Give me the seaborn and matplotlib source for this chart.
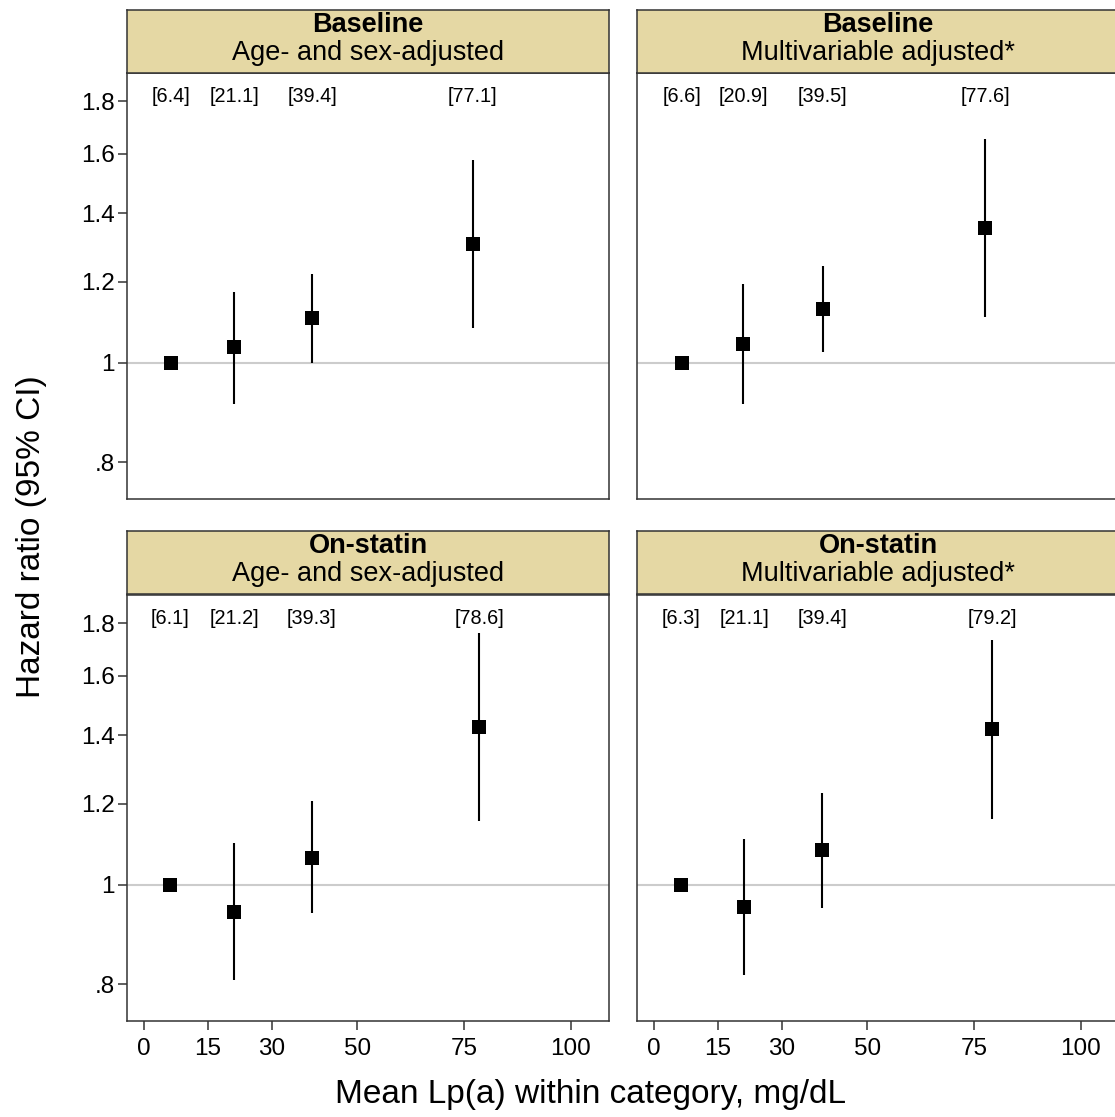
import numpy as np
import pandas as pd
import matplotlib
matplotlib.use("Agg")
import matplotlib.pyplot as plt
import matplotlib.transforms as mtransforms
from matplotlib.ticker import NullLocator
import seaborn as sns

# ---- data -------------------------------------------------------------
periods = ["Baseline", "Baseline", "On-statin", "On-statin"]
models = ["Age- and sex-adjusted", "Multivariable adjusted*",
          "Age- and sex-adjusted", "Multivariable adjusted*"]

# mean Lp(a) within each category (mg/dL), per panel
mean_lpa = [
    [6.4, 21.1, 39.4, 77.1],
    [6.6, 20.9, 39.5, 77.6],
    [6.1, 21.2, 39.3, 78.6],
    [6.3, 21.1, 39.4, 79.2],
]
hazard_ratio = [
    [1.00, 1.036, 1.106, 1.308],
    [1.00, 1.044, 1.129, 1.354],
    [1.00, 0.942, 1.063, 1.425],
    [1.00, 0.951, 1.082, 1.420],
]
ci_lower = [
    [np.nan, 0.912, 1.001, 1.082],
    [np.nan, 0.911, 1.024, 1.108],
    [np.nan, 0.807, 0.938, 1.155],
    [np.nan, 0.816, 0.950, 1.161],
]
ci_upper = [
    [np.nan, 1.174, 1.222, 1.579],
    [np.nan, 1.195, 1.244, 1.654],
    [np.nan, 1.100, 1.207, 1.760],
    [np.nan, 1.109, 1.231, 1.735],
]

x_ticks = [0, 15, 30, 50, 75, 100]
y_ticks = [0.8, 1.0, 1.2, 1.4, 1.6, 1.8]
y_tick_labels = [".8", "1", "1.2", "1.4", "1.6", "1.8"]

rows = []
for p in range(4):
    for k in range(4):
        rows.append({"panel": p, "lpa": mean_lpa[p][k], "hr": hazard_ratio[p][k],
                     "lo": ci_lower[p][k], "hi": ci_upper[p][k]})
df = pd.DataFrame(rows)

# ---- style ------------------------------------------------------------
sns.set_style("ticks")
plt.rcParams["font.family"] = ["Liberation Sans", "DejaVu Sans"]
plt.rcParams["text.color"] = "black"
plt.rcParams["axes.labelcolor"] = "black"
plt.rcParams["xtick.color"] = "black"
plt.rcParams["ytick.color"] = "black"
frame_col = "#333333"
strip_col = "#E5D8A4"

W, H = 1115, 1117
fig = plt.figure(figsize=(W / 100, H / 100), dpi=100)

col_x = [127 / W, 637 / W]
panel_w = 482 / W
plot_bottom = [1 - 499 / H, 1 - 1021 / H]
plot_h = 426 / H
strip_bottom = [1 - 73 / H, 1 - 594 / H]
strip_h = 63 / H

for p in range(4):
    r, c = divmod(p, 2)
    ax = fig.add_axes([col_x[c], plot_bottom[r], panel_w, plot_h])
    sub = df[df["panel"] == p]

    ax.axhline(1.0, color="#cccccc", lw=1.5, zorder=0)
    ci = sub.dropna(subset=["lo", "hi"])
    ax.vlines(ci["lpa"], ci["lo"], ci["hi"], color="black", lw=1.5, zorder=2)
    sns.scatterplot(data=sub, x="lpa", y="hr", marker="s", s=92, color="black",
                    linewidth=0, ax=ax, zorder=3, legend=False)

    ax.set_yscale("log")
    ax.set_xlim(-4, 109)
    ax.set_ylim(0.7366, 1.919)
    ax.set_yticks(y_ticks)
    ax.set_yticklabels(y_tick_labels)
    ax.yaxis.set_minor_locator(NullLocator())
    ax.set_xticks(x_ticks)
    ax.set_xlabel("")
    ax.set_ylabel("")

    ax.tick_params(axis="both", labelsize=17.5, length=6.5, width=1.1,
                   color=frame_col, labelcolor="black")
    ax.tick_params(axis="x", pad=5.5)
    ax.tick_params(axis="y", pad=2.5)
    if r == 0:
        ax.tick_params(axis="x", bottom=False, labelbottom=False)
    if c == 1:
        ax.tick_params(axis="y", left=False, labelleft=False)
    for sp in ax.spines.values():
        sp.set_visible(True)
        sp.set_color(frame_col)
        sp.set_linewidth(1.1)

    # category means printed above the points
    trans = mtransforms.blended_transform_factory(ax.transData, ax.transAxes)
    for xv in sub["lpa"]:
        ax.text(xv, 0.946, f"[{xv:.1f}]", transform=trans, ha="center",
                va="center", fontsize=14.3, color="black")

    # panel header strip
    sax = fig.add_axes([col_x[c], strip_bottom[r], panel_w, strip_h])
    sax.set_facecolor(strip_col)
    sax.set_xticks([])
    sax.set_yticks([])
    for sp in sax.spines.values():
        sp.set_visible(True)
        sp.set_color(frame_col)
        sp.set_linewidth(1.1)
    sax.text(0.5, 0.651, periods[p], transform=sax.transAxes, ha="center",
             va="baseline", fontsize=19.5, fontweight="bold", color="black")
    sax.text(0.5, 0.206, models[p], transform=sax.transAxes, ha="center",
             va="baseline", fontsize=19.5, color="black")

fig.text(0.530, 0.0125, "Mean Lp(a) within category, mg/dL", ha="center",
         va="baseline", fontsize=24, color="black")
fig.text(0.028, 0.52, "Hazard ratio (95% CI)", rotation=90, ha="center",
         va="center", fontsize=24, color="black")

fig.savefig("out.png", dpi=100, facecolor="white")
